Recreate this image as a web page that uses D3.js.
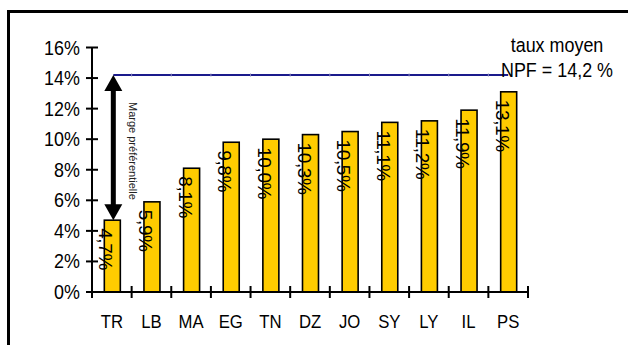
<!DOCTYPE html>
<html>
<head>
<meta charset="utf-8">
<script src="https://cdn.jsdelivr.net/npm/d3@7"></script>
<style>
  body { margin: 0; background: #fff; }
  svg { display: block; font-family: "Liberation Sans", Arial, sans-serif; }
</style>
</head>
<body>
<svg id="chart" width="628" height="345"></svg>
<script>
'use strict';
// data
var countries = ['TR','LB','MA','EG','TN','DZ','JO','SY','LY','IL','PS'];
var rates = [4.7, 5.9, 8.1, 9.8, 10.0, 10.3, 10.5, 11.1, 11.2, 11.9, 13.1];
var mfnRate = 14.2;
var yTicks = [0, 2, 4, 6, 8, 10, 12, 14, 16];

var svg = d3.select('#chart');
var fmt = function(v) { return d3.format('.1f')(v).replace('.', ',') + '%'; };
// the original font is a little narrower than Liberation Sans
var squeeze = ' scale(0.92,1)';

// outer frame (runs off the right and bottom of the picture)
svg.append('rect')
	.attr('x', 8.5).attr('y', 11.5)
	.attr('width', 640).attr('height', 360)
	.attr('fill', 'none').attr('stroke', '#000').attr('stroke-width', 3);

var x = d3.scaleBand().domain(countries).range([92, 528]).paddingInner(0).paddingOuter(0);
var y = d3.scaleLinear().domain([0, 16]).range([292, 47.5]);
var barW = 16;

// bars
svg.append('g').selectAll('rect')
	.data(rates)
	.enter().append('rect')
		.attr('x', function(d, i) { return x(countries[i]) + x.bandwidth() / 2 - barW / 2 + 0.5; })
		.attr('y', function(d) { return y(d); })
		.attr('width', barW)
		.attr('height', function(d) { return y(0) - y(d); })
		.attr('fill', '#FFCC00')
		.attr('stroke', '#000')
		.attr('stroke-width', 1.6);

// y axis
var yAxis = svg.append('g').attr('transform', 'translate(92,0)');
yAxis.append('line').attr('y1', y(16)).attr('y2', y(0)).attr('stroke', '#000').attr('stroke-width', 2);
yAxis.selectAll('line.tick')
	.data(yTicks)
	.enter().append('line')
		.attr('class', 'tick')
		.attr('x1', -6).attr('x2', 6)
		.attr('y1', function(d) { return y(d); })
		.attr('y2', function(d) { return y(d); })
		.attr('stroke', '#000').attr('stroke-width', 2);
yAxis.selectAll('text')
	.data(yTicks)
	.enter().append('text')
		.attr('transform', function(d) { return 'translate(-12,' + y(d) + ')' + squeeze; })
		.attr('dy', '0.36em')
		.attr('text-anchor', 'end')
		.attr('font-size', 19.5)
		.text(function(d) { return d + '%'; });

// x axis
var xAxis = svg.append('g');
xAxis.append('line').attr('x1', 92).attr('x2', 528).attr('y1', y(0)).attr('y2', y(0))
	.attr('stroke', '#000').attr('stroke-width', 2);
var bounds = countries.map(function(c) { return x(c); }).concat([x.range()[1]]);
xAxis.selectAll('line.tick')
	.data(bounds)
	.enter().append('line')
		.attr('class', 'tick')
		.attr('x1', function(d) { return d; })
		.attr('x2', function(d) { return d; })
		.attr('y1', y(0) - 6).attr('y2', y(0) + 6)
		.attr('stroke', '#000').attr('stroke-width', 2);
xAxis.selectAll('text')
	.data(countries)
	.enter().append('text')
		.attr('transform', function(d) { return 'translate(' + (x(d) + x.bandwidth() / 2) + ',328)' + ' scale(0.88,1)'; })
		.attr('text-anchor', 'middle')
		.attr('font-size', 19)
		.text(function(d) { return d; });

// average MFN rate line
var lineX0 = x(countries[0]) + x.bandwidth() / 2 + 1.5;
var lineX1 = x(countries[countries.length - 1]) + x.bandwidth() / 2;
svg.append('line')
	.attr('x1', lineX0).attr('x2', lineX1)
	.attr('y1', y(mfnRate)).attr('y2', y(mfnRate))
	.attr('stroke', '#1a1a8c').attr('stroke-width', 2);
svg.selectAll('line.mark')
	.data(bounds.slice(1, -1))
	.enter().append('line')
		.attr('class', 'mark')
		.attr('x1', function(d) { return d; }).attr('x2', function(d) { return d; })
		.attr('y1', y(mfnRate) - 1.5).attr('y2', y(mfnRate) + 1.5)
		.attr('stroke', '#8888bb').attr('stroke-width', 1);

svg.append('text')
	.attr('transform', 'translate(557,52)' + squeeze)
	.attr('text-anchor', 'middle').attr('font-size', 19.5)
	.text('taux moyen');
svg.append('text')
	.attr('transform', 'translate(557,77)' + squeeze)
	.attr('text-anchor', 'middle').attr('font-size', 19.5)
	.text('NPF = 14,2 %');

// double arrow: preferential margin
var ax = lineX0;
var yTop = y(mfnRate), yBot = y(rates[0]);
var headW = 9, headH = 16;
svg.append('rect')
	.attr('x', ax - 2.5).attr('y', yTop + headH - 1)
	.attr('width', 5).attr('height', yBot - yTop - 2 * headH + 2)
	.attr('fill', '#000');
svg.append('path')
	.attr('d', 'M' + ax + ',' + yTop + 'L' + (ax + headW) + ',' + (yTop + headH) + 'L' + (ax - headW) + ',' + (yTop + headH) + 'Z')
	.attr('fill', '#000');
svg.append('path')
	.attr('d', 'M' + ax + ',' + yBot + 'L' + (ax + headW) + ',' + (yBot - headH) + 'L' + (ax - headW) + ',' + (yBot - headH) + 'Z')
	.attr('fill', '#000');
svg.append('text')
	.attr('transform', 'translate(' + (ax + 15.5) + ',' + (yTop + 27) + ') rotate(90)')
	.attr('font-size', 11)
	.attr('fill', '#222')
	.text('Marge préférentielle');

// value labels, rotated
svg.append('g').selectAll('text')
	.data(rates)
	.enter().append('text')
		.attr('transform', function(d, i) {
			var cx = x(countries[i]) + x.bandwidth() / 2 + 0.5;
			return 'translate(' + (cx - 13) + ',' + (y(d) + 8) + ') rotate(90)';
		})
		.attr('font-size', 19)
		.attr('letter-spacing', -0.4)
		.text(function(d) { return fmt(d); });
</script>
</body>
</html>
